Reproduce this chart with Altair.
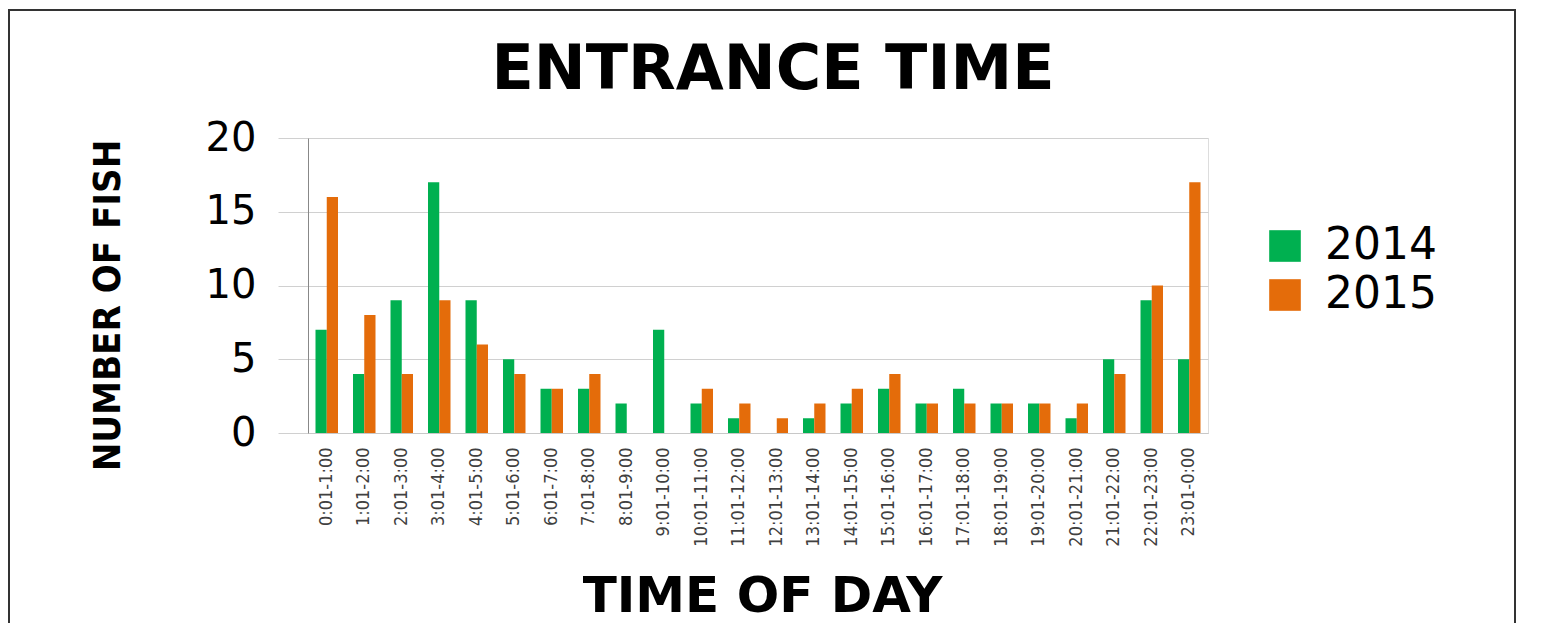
import altair as alt
import pandas as pd

slots = ["0:01-1:00", "1:01-2:00", "2:01-3:00", "3:01-4:00", "4:01-5:00", "5:01-6:00",
         "6:01-7:00", "7:01-8:00", "8:01-9:00", "9:01-10:00", "10:01-11:00", "11:01-12:00",
         "12:01-13:00", "13:01-14:00", "14:01-15:00", "15:01-16:00", "16:01-17:00",
         "17:01-18:00", "18:01-19:00", "19:01-20:00", "20:01-21:00", "21:01-22:00",
         "22:01-23:00", "23:01-0:00"]
fish_2014 = [7, 4, 9, 17, 9, 5, 3, 3, 2, 7, 2, 1, 0, 1, 2, 3, 2, 3, 2, 2, 1, 5, 9, 5]
fish_2015 = [16, 8, 4, 9, 6, 4, 3, 4, 0, 0, 3, 2, 1, 2, 3, 4, 2, 2, 2, 2, 2, 4, 10, 17]
years = ["2014", "2015"]
colors = ["#00B050", "#E46C0A"]
chart_title = "ENTRANCE TIME"

rows = []
for i, s in enumerate(slots):
    rows.append({"slot": s, "year": "2014", "count": fish_2014[i]})
    rows.append({"slot": s, "year": "2015", "count": fish_2015[i]})
df = pd.DataFrame(rows)

W, H = 900, 295

bars = alt.Chart(df).mark_bar().encode(
    x=alt.X("slot:N", sort=slots,
            scale=alt.Scale(paddingInner=0.4, paddingOuter=0.2),
            axis=alt.Axis(title="TIME OF DAY", labelAngle=-90, labelFont="DejaVu Sans Condensed",
                          labelFontSize=18, labelColor="#404040", labelPadding=14,
                          ticks=False, domainColor="#c8c8c8", grid=False,
                          titleFont="DejaVu Sans", titleFontSize=50, titleFontWeight="bold",
                          titleColor="black", titleX=454, titleY=163, titleBaseline="middle",
                          titleAlign="center")),
    xOffset=alt.XOffset("year:N", sort=years),
    y=alt.Y("count:Q", scale=alt.Scale(domain=[0, 20]),
            axis=alt.Axis(title="NUMBER OF FISH", values=[0, 5, 10, 15, 20],
                          labelFont="DejaVu Sans", labelFontSize=40, labelColor="black",
                          labelPadding=22, tickSize=30, tickColor="#d0d0d0",
                          domainColor="#888888", gridColor="#d0d0d0",
                          titleFont="DejaVu Sans Condensed", titleFontSize=38,
                          titleFontWeight="bold", titleColor="black", titleAngle=-90,
                          titleX=-200, titleY=167, titleAlign="center",
                          titleBaseline="middle")),
    color=alt.Color("year:N", sort=years, scale=alt.Scale(domain=years, range=colors),
                    legend=alt.Legend(title=None, orient="none", legendX=955, legendY=86,
                                      symbolType="square", symbolSize=1000,
                                      symbolStrokeWidth=0, labelFont="DejaVu Sans",
                                      labelFontSize=44, labelColor="black",
                                      rowPadding=5, labelOffset=18)),
)

frame = alt.Chart(pd.DataFrame({"a": [0]})).mark_rect(
    fill=None, stroke="#333333", strokeWidth=2
).encode(
    x=alt.value(-299), x2=alt.value(1207), y=alt.value(-128), y2=alt.value(520)
)

title = alt.Chart(pd.DataFrame({"t": [chart_title]})).mark_text(
    font="DejaVu Sans", fontSize=62, fontWeight="bold", color="black",
    align="center", baseline="middle"
).encode(text="t:N", x=alt.value(465), y=alt.value(-68))

chart = alt.layer(frame, title, bars).properties(
    width=W, height=H,
    autosize=alt.AutoSizeParams(type="none"),
    padding={"left": 300, "top": 130, "right": 318, "bottom": 190},
).configure_view(stroke=None).configure(background="white")

chart.save("out.html", embed_options={"renderer": "svg", "actions": False})
